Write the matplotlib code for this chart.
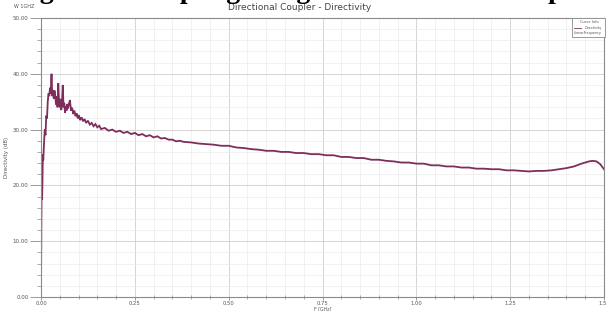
import numpy as np
import matplotlib
matplotlib.use("Agg")
import matplotlib.pyplot as plt
from matplotlib.ticker import MultipleLocator, FormatStrFormatter

# frequency in GHz and directivity in dB
freq = [0.000, 0.001, 0.002, 0.003, 0.004, 0.005, 0.006, 0.008, 0.010, 0.012,
        0.014, 0.016, 0.018, 0.020, 0.022, 0.024, 0.026, 0.028, 0.030, 0.032,
        0.034, 0.036, 0.038, 0.040, 0.042, 0.044, 0.046, 0.048, 0.050, 0.052,
        0.054, 0.056, 0.058, 0.060, 0.062, 0.064, 0.066, 0.068, 0.070, 0.072,
        0.074, 0.077, 0.080, 0.083, 0.086, 0.089, 0.092, 0.095, 0.098, 0.101,
        0.104, 0.108, 0.112, 0.116, 0.120, 0.125, 0.130, 0.135, 0.140, 0.145,
        0.150, 0.155, 0.160, 0.170, 0.180, 0.190, 0.200, 0.210, 0.220, 0.230,
        0.240, 0.250, 0.260, 0.270, 0.280, 0.290, 0.300, 0.310, 0.320, 0.330,
        0.340, 0.350, 0.360, 0.370, 0.380, 0.400, 0.420, 0.440, 0.460, 0.480,
        0.500, 0.520, 0.540, 0.560, 0.580, 0.600, 0.620, 0.640, 0.660, 0.680,
        0.700, 0.720, 0.740, 0.760, 0.780, 0.800, 0.820, 0.840, 0.860, 0.880,
        0.900, 0.920, 0.940, 0.960, 0.980, 1.000, 1.020, 1.040, 1.060, 1.080,
        1.100, 1.120, 1.140, 1.160, 1.180, 1.200, 1.220, 1.240, 1.260, 1.280,
        1.300, 1.320, 1.340, 1.360, 1.380, 1.400, 1.420, 1.440, 1.460, 1.470,
        1.480, 1.490, 1.500]
directivity = [1.0, 14.0, 22.5, 17.5, 22.0, 25.5, 24.5, 27.5, 30.0, 29.0,
               32.5, 32.0, 35.0, 36.5, 36.0, 37.5, 36.5, 40.0, 36.0, 37.0,
               35.5, 37.0, 36.0, 34.5, 36.0, 34.0, 38.3, 35.0, 34.0, 35.5,
               33.5, 35.0, 38.0, 34.0, 34.8, 33.0, 34.2, 33.4, 34.6, 33.8,
               34.5, 35.3, 33.4, 33.9, 32.8, 33.4, 32.4, 32.9, 32.0, 32.6,
               31.7, 32.2, 31.5, 31.9, 31.2, 31.6, 30.9, 31.2, 30.6, 31.0,
               30.4, 30.7, 30.1, 30.3, 29.8, 30.0, 29.6, 29.8, 29.4, 29.6,
               29.2, 29.4, 29.0, 29.2, 28.8, 29.0, 28.6, 28.8, 28.4, 28.5,
               28.2, 28.2, 27.9, 28.0, 27.8, 27.7, 27.5, 27.4, 27.3, 27.1,
               27.1, 26.8, 26.7, 26.5, 26.4, 26.2, 26.2, 26.0, 26.0, 25.8,
               25.8, 25.6, 25.6, 25.4, 25.4, 25.1, 25.1, 24.9, 24.9, 24.6,
               24.6, 24.4, 24.3, 24.1, 24.1, 23.9, 23.9, 23.6, 23.6, 23.4,
               23.4, 23.2, 23.2, 23.0, 23.0, 22.9, 22.9, 22.7, 22.7, 22.6,
               22.5, 22.6, 22.6, 22.7, 22.9, 23.1, 23.4, 23.9, 24.3, 24.4,
               24.3, 23.8, 22.9]

xticks = [0.00, 0.25, 0.50, 0.75, 1.00, 1.25, 1.50]
yticks = [0.0, 10.0, 20.0, 30.0, 40.0, 50.0]

fig = plt.figure(figsize=(6.06, 3.11), dpi=100)
ax = fig.add_axes([41 / 606, 1 - 297 / 311, 563 / 606, 279 / 311])

ax.plot(freq, directivity, color="#7d2e5a", lw=1.3, solid_joinstyle="miter")

ax.set_xlim(0, 1.5)
ax.set_ylim(0, 50)
ax.set_xticks(xticks)
ax.set_yticks(yticks)
ax.xaxis.set_minor_locator(MultipleLocator(0.05))
ax.yaxis.set_minor_locator(MultipleLocator(2))
ax.xaxis.set_major_formatter(FormatStrFormatter("%.2f"))
ax.yaxis.set_major_formatter(FormatStrFormatter("%.2f"))

ax.grid(which="major", color="#cfcfcf", lw=0.6)
ax.grid(which="minor", color="#ececec", lw=0.5)
ax.set_axisbelow(True)

for s in ax.spines.values():
    s.set_color("#8a8a8a")
    s.set_linewidth(0.8)

ax.tick_params(axis="y", which="major", direction="out", length=8, width=0.6,
               color="#8a8a8a", labelsize=4, labelcolor="#555555", pad=1)
ax.tick_params(axis="y", which="minor", direction="out", length=3, width=0.5,
               color="#8a8a8a")
ax.tick_params(axis="x", which="major", direction="out", length=2.5, width=0.6,
               color="#8a8a8a", labelsize=3.8, labelcolor="#555555", pad=0.5)
ax.tick_params(axis="x", which="minor", direction="inout", length=3, width=0.5,
               color="#8a8a8a")

fig.text(323 / 606, 1 - 308.5 / 311, "F [GHz]", ha="center", va="center",
         fontsize=3.3, color="#555555")
ax.set_ylabel("Directivity (dB)", fontsize=4, color="#555555", labelpad=3)

fig.text(300 / 606, 1 - 8 / 311, "Directional Coupler - Directivity",
         ha="center", va="center", fontsize=6.5, color="#444444")
fig.text(24 / 606, 1 - 6 / 311, "W 1GHZ", ha="center", va="center",
         fontsize=3.5, color="#555555")

# legend box in the corner, HFSS style
fig.patches.append(plt.Rectangle((572 / 606, 1 - 37 / 311), 33 / 606, 19 / 311,
                                 transform=fig.transFigure, facecolor="white",
                                 edgecolor="#8a8a8a", lw=0.6, zorder=5))
fig.text(589 / 606, 1 - 22 / 311, "Curve Info", ha="center", va="center",
         fontsize=2.6, color="#555555", zorder=6)
fig.text(602 / 606, 1 - 28 / 311, "Directivity", ha="right", va="center",
         fontsize=2.4, color="#555555", zorder=6)
fig.text(602 / 606, 1 - 33 / 311, "LinearFrequency", ha="right", va="center",
         fontsize=2.4, color="#555555", zorder=6)
fig.lines.append(plt.Line2D([574 / 606, 581 / 606], [1 - 28 / 311, 1 - 28 / 311],
                            transform=fig.transFigure, color="#7d2e5a", lw=0.6,
                            zorder=6))

# caption of the page cut off at the top of the screenshot
fig.text(15 / 606, 1 + 2 / 311, "Figure 4: Coupling Range of Directional Coupler",
         ha="left", va="baseline", fontsize=20, fontweight="bold",
         family="Liberation Serif", color="black")

fig.savefig("out.png", dpi=100)
